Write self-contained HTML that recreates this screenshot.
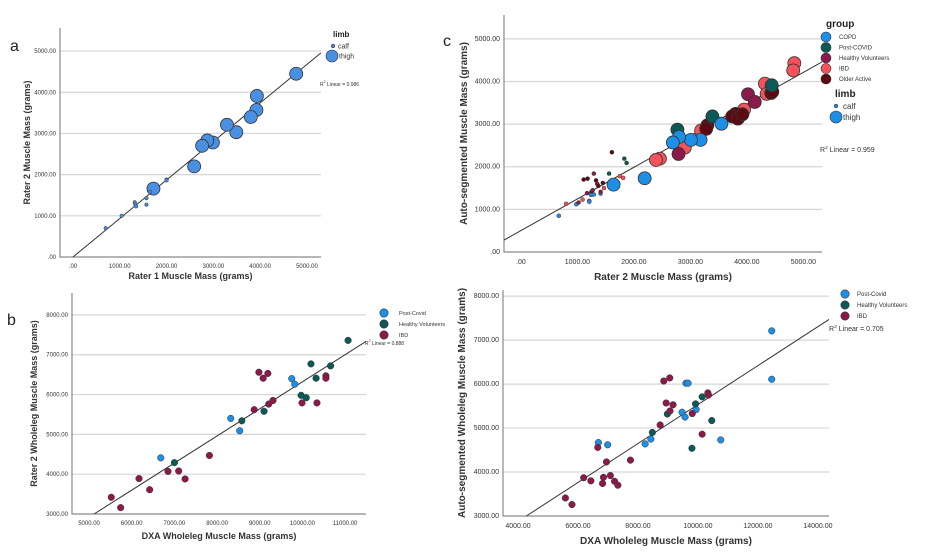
<!DOCTYPE html>
<html><head><meta charset="utf-8"><style>
html,body{margin:0;padding:0;background:#fff;}
svg{display:block;font-family:"Liberation Sans",sans-serif;}
</style></head><body>
<svg id="fig" width="928" height="553" viewBox="0 0 928 553" xmlns="http://www.w3.org/2000/svg"></svg>
<script>
// ---------- Panel a data ----------
const aThighX=[4770,3930,3920,3800,3490,3290,2990,2870,2760,2590,1720];
const aThighY=[4450,3910,3570,3400,3030,3210,2780,2830,2700,2200,1660];
const aCalfX=[700,1040,1320,1330,1350,1570,1570,1650,2000,2000];
const aCalfY=[700,1000,1330,1280,1230,1430,1270,1580,1880,1860];
const aYTicks=[0,1000,2000,3000,4000,5000];
const aXTicks=[0,1000,2000,3000,4000,5000];
const aFit=[0,0.935];
// ---------- Panel c data ----------
const cGroups=["COPD","Post-COVID","Healthy Volunteers","IBD","Older Active"];
const cThighX=[4840,4820,4320,4350,3950,3190,2900,2460,2390, 4430,4450,3300,3280,3800,3740,3840,3920, 4020,4140,2790, 4440,3390,2770, 3550,3180,3010,2800,2690,2190,1640];
const cThighY=[4430,4260,3950,3710,3340,2850,2450,2190,2160, 3730,3760,2970,2890,3240,3180,3130,3230, 3700,3520,2300, 3910,3180,2870, 3010,2630,2630,2700,2570,1730,1580];
const cThighG=[3,3,3,3,3,3,3,3,3, 4,4,4,4,4,4,4,4, 2,2,2, 1,1,1, 0,0,0,0,0,0,0];
const cCalfX=[670,800,980,1020,1090,1110,1180,1170,1210,1210,1290,1250,1270,1240,1290,1330,1350,1370,1410,1410,1450,1470,1610,1560,1750,1810,1830,1870];
const cCalfY=[850,1130,1120,1160,1230,1700,1720,1380,1200,1180,1840,1410,1450,1340,1350,1680,1600,1550,1370,1410,1620,1500,2340,1840,1780,1740,2190,2090];
const cCalfG=[0,3,0,2,3,4,4,2,3,0,2,4,2,0,0,4,2,4,0,2,4,3,4,1,3,3,1,1];
const cYTicks=[0,1000,2000,3000,4000,5000];
const cXTicks=[0,1000,2000,3000,4000,5000];
const cFit=[503,0.742];
// ---------- Panel b data ----------
const bGroups=["Post-Covid","Healthy Volunteers","IBD"];
const bX=[5520,5740,6170,6420,6850,7100,7250,7820,8870,8980,9080,9190,9210,9310,9990,10340,10550,10550, 6680,8320,8530,9750,9820, 7000,8580,9100,9970,10090,10200,10320,10660,11070];
const bY=[3420,3160,3890,3610,4070,4080,3880,4470,5620,6560,6410,6530,5760,5850,5790,5790,6470,6410, 4410,5400,5090,6400,6260, 4290,5340,5580,5980,5920,6770,6410,6720,7360];
const bG=[2,2,2,2,2,2,2,2,2,2,2,2,2,2,2,2,2,2, 0,0,0,0,0, 1,1,1,1,1,1,1,1,1];
const bYTicks=[3000,4000,5000,6000,7000,8000];
const bXTicks=[5000,6000,7000,8000,9000,10000,11000];
const bFit=[-480,0.68];
// ---------- Panel d data ----------
const dX=[6680,6990,8240,8430,9470,9570,9600,9670,9940,10760,12460,12460, 8480,8980,9800,9920,10140,10460, 5580,5800,6190,6430,6660,6820,6850,6950,7080,7220,7330,7750,8740,8860,8940,9070,9060,9170,9810,10140,10330,10350];
const dY=[4670,4620,4640,4750,5360,5250,6020,6020,5420,4730,7210,6110, 4900,5320,4540,5550,5710,5170, 3410,3260,3870,3800,4560,3740,3880,4230,3920,3790,3700,4270,5070,6070,5570,5390,6140,5530,5330,4860,5800,5750];
const dG=[0,0,0,0,0,0,0,0,0,0,0,0, 1,1,1,1,1,1, 2,2,2,2,2,2,2,2,2,2,2,2,2,2,2,2,2,2,2,2,2,2];
const dYTicks=[3000,4000,5000,6000,7000,8000];
const dXTicks=[4000,6000,8000,10000,12000,14000];
const dFit=[1104,0.443];

const svg=document.getElementById('fig');
const NS='http://www.w3.org/2000/svg';
function mk(tag,attrs,parent,text){const e=document.createElementNS(NS,tag);for(const k in attrs)e.setAttribute(k,attrs[k]);if(text!==undefined)e.textContent=text;(parent||svg).appendChild(e);return e;}
function fmt(v){return v===0?'.00':v.toFixed(2);}

function panel(p){
  const g=mk('g',{});
  
  
  const sx=v=>p.x0+(v-p.xd[0])/(p.xd[1]-p.xd[0])*(p.x1-p.x0);
  const sy=v=>p.y1-(v-p.yd[0])/(p.yd[1]-p.yd[0])*(p.y1-p.y0);
  p.yTicks.forEach(t=>{
    const y=sy(t);
    if(t!==p.yd[0]){const l=mk('line',{x1:p.x0,x2:p.x1,y1:y,y2:y,stroke:'#d6d6d6','stroke-width':1.2},g);
      }
    const tx=mk('text',{x:p.x0-4,y:y+2,'font-size':p.tf,'text-anchor':'end',fill:'#333'},g,fmt(t));
    
  });
  p.xTicks.forEach(t=>{
    const tx=mk('text',{x:sx(t),y:p.y1+p.tf+5,'font-size':p.tf,'text-anchor':'middle',fill:'#333'},g,fmt(t));
    
  });
  const ax=mk('path',{d:`M${p.x0},${p.y0}V${p.y1}H${p.x1}`,fill:'none',stroke:'#8a8a8a','stroke-width':1.2},g);
  
  // fit line
  const fy=v=>p.fit[0]+p.fit[1]*v;
  let xa=p.xd[0],xb=p.xd[1];
  if(fy(xa)<p.yd[0])xa=(p.yd[0]-p.fit[0])/p.fit[1];
  const fl=mk('line',{x1:sx(xa),y1:sy(fy(xa)),x2:sx(xb),y2:sy(fy(xb)),stroke:'#333','stroke-width':1},g);
  
  // points
  p.series.forEach(s=>{
    s.x.forEach((v,i)=>{
      const c=mk('circle',{cx:sx(v),cy:sy(s.y[i]),r:s.r,fill:s.col(i),stroke:'#333','stroke-width':s.r>4?0.8:0.5},g);
      
    });
  });
  const xt=mk('text',{x:(p.x0+p.x1)/2,y:p.xtY,'font-size':p.af,'font-weight':'bold','text-anchor':'middle',fill:'#333'},g,p.xTitle);
  
  const yt=mk('text',{x:0,y:0,'font-size':p.af,'font-weight':'bold','text-anchor':'middle',fill:'#333',transform:`translate(${p.ytX},${(p.y0+p.y1)/2}) rotate(-90)`},g,p.yTitle);
  
  return g;
}
function legendItem(x,y,r,col,label,fs,tx){
  const c=mk('circle',{cx:x,cy:y,r:r,fill:col,stroke:'#333','stroke-width':0.6});
  
  const t=mk('text',{x:tx,y:y+fs*0.35,'font-size':fs,fill:'#333'},undefined,label);
  
}
function txt(x,y,s,str,name,extra){const t=mk('text',Object.assign({x:x,y:y,'font-size':s,fill:'#222'},extra||{}),undefined,str);return t;}
function r2(x,y,fs,val){const t=mk('text',{x:x,y:y,'font-size':fs,fill:'#333'});
  t.innerHTML='R<tspan dy="-3" font-size="'+(fs*0.7)+'">2</tspan><tspan dy="3"> Linear = '+val+'</tspan>';}

const cCols=['#1d8fe6','#0b5a55','#8b1a4a','#f5535b','#5a0a10'];
const bCols=['#1d8fe6','#0b5a55','#8b1a4a'];

// Panel a
panel({name:'panel-a',x0:60,x1:321,y0:28,y1:257,xd:[-277,5300],yd:[0,5560],xTicks:aXTicks,yTicks:aYTicks,tf:6,af:9,fit:aFit,
  xTitle:'Rater 1 Muscle Mass (grams)',yTitle:'Rater 2 Muscle Mass (grams)',xtY:279,ytX:30,
  series:[{x:aThighX,y:aThighY,r:6.5,col:()=>'#4a90e2',nm:'thigh-point'},{x:aCalfX,y:aCalfY,r:1.8,col:()=>'#4a90e2',nm:'calf-point'}]});
txt(10,51,16,'a','panel-label-a');
txt(333,37,8,'limb','legend-title-limb',{'font-weight':'bold'});
legendItem(333,46,1.8,'#4a90e2','calf',7,338);
legendItem(332,56,6,'#4a90e2','thigh',7,339);
r2(320,86,5,'0.986');

// Panel c
panel({name:'panel-c',x0:504,x1:822,y0:15,y1:252,xd:[-300,5330],yd:[0,5560],xTicks:cXTicks,yTicks:cYTicks,tf:7,af:10,fit:cFit,
  xTitle:'Rater 2 Muscle Mass (grams)',yTitle:'Auto-segmented Muscle Mass (grams)',xtY:280,ytX:467,
  series:[{x:cThighX,y:cThighY,r:6.5,col:i=>cCols[cThighG[i]],nm:'thigh-point'},{x:cCalfX,y:cCalfY,r:2,col:i=>cCols[cCalfG[i]],nm:'calf-point'}]});
txt(443,46,16,'c','panel-label-c');
txt(826,27,10,'group','legend-title-group',{'font-weight':'bold'});
cGroups.forEach((gname,i)=>legendItem(826,37+i*10.5,5,cCols[i],gname,6,839));
txt(835,97,10,'limb','legend-title-limb',{'font-weight':'bold'});
legendItem(836,106,1.8,'#1d8fe6','calf',8,843);
legendItem(836,117,6,'#1d8fe6','thigh',8,843);
r2(820,152,7,'0.959');

// Panel b
panel({name:'panel-b',x0:72,x1:366,y0:293,y1:514,xd:[4600,11490],yd:[3000,8550],xTicks:bXTicks,yTicks:bYTicks,tf:6,af:9,fit:bFit,
  xTitle:'DXA Wholeleg Muscle Mass (grams)',yTitle:'Rater 2 Wholeleg Muscle Mass (grams)',xtY:539,ytX:37,
  series:[{x:bX,y:bY,r:3.3,col:i=>bCols[bG[i]],nm:'data-point'}]});
txt(7,325,16,'b','panel-label-b');
bGroups.forEach((gname,i)=>legendItem(384,313+i*11,4.2,bCols[i],gname,5.5,399));
r2(365,345,5,'0.888');

// Panel d
panel({name:'panel-d',x0:503,x1:829,y0:290,y1:516,xd:[3500,14370],yd:[3000,8140],xTicks:dXTicks,yTicks:dYTicks,tf:7,af:10,fit:dFit,
  xTitle:'DXA Wholeleg Muscle Mass (grams)',yTitle:'Auto-segmented Wholeleg Muscle Mass (grams)',xtY:544,ytX:465,
  series:[{x:dX,y:dY,r:3.3,col:i=>bCols[dG[i]],nm:'data-point'}]});
bGroups.forEach((gname,i)=>legendItem(845,294+i*11,4.2,bCols[i],gname,6,857));
r2(829,331,7,'0.705');
txt(458,305,10,"'",'panel-mark');
</script>
</body></html>
